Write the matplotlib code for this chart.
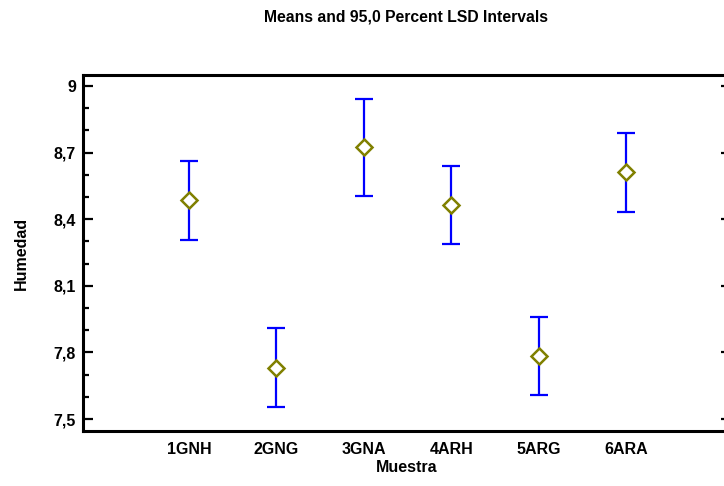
"""
Means and 95,0 Percent LSD Intervals — Humedad por muestra
"""
import matplotlib
matplotlib.use('Agg')
import matplotlib.pyplot as plt
import matplotlib.ticker as ticker

plt.rcParams['font.family'] = ['Liberation Sans Narrow', 'Liberation Sans', 'DejaVu Sans']

# Datos
muestras = ["1GNH", "2GNG", "3GNA", "4ARH", "5ARG", "6ARA"]
medias = [8.485, 7.731, 8.727, 8.463, 7.785, 8.611]
limite_inf = [8.308, 7.556, 8.506, 8.287, 7.608, 8.432]
limite_sup = [8.662, 7.910, 8.944, 8.641, 7.961, 8.787]
y_ticks = [7.5, 7.8, 8.1, 8.4, 8.7, 9.0]
y_labels = ["7,5", "7,8", "8,1", "8,4", "8,7", "9"]

fig = plt.figure(figsize=(7.24, 4.86), dpi=100)
ax = fig.add_axes([83 / 724, 1 - 431 / 486, (731 - 83) / 724, (431 - 75) / 486])

x = list(range(1, len(muestras) + 1))
err_lo = [m - l for m, l in zip(medias, limite_inf)]
err_hi = [u - m for m, u in zip(medias, limite_sup)]

ax.errorbar(x, medias, yerr=[err_lo, err_hi], fmt='none', ecolor='#0000ff',
            elinewidth=1.6, capsize=6.5, capthick=1.6, zorder=2)
ax.plot(x, medias, linestyle='none', marker='D', markersize=8,
        markerfacecolor='white', markeredgecolor='#808000',
        markeredgewidth=1.8, zorder=3)

ax.set_xlim(-0.21, 7.2)
ax.set_ylim(7.446, 9.05)

ax.set_xticks(x)
ax.set_xticklabels(muestras, fontsize=11.5, fontweight='bold')
ax.set_yticks(y_ticks)
ax.set_yticklabels(y_labels, fontsize=11.5, fontweight='bold')
ax.yaxis.set_minor_locator(ticker.MultipleLocator(0.1))

ax.tick_params(axis='x', which='both', length=0, pad=8)
ax.tick_params(axis='y', which='major', direction='in', length=7.5, width=1.6,
               left=True, right=True, pad=5)
ax.tick_params(axis='y', which='minor', direction='in', length=4, width=1.6,
               left=True, right=False)

for sp in ax.spines.values():
    sp.set_linewidth(2.2)

ax.set_xlabel("Muestra", fontsize=11.5, fontweight='bold', labelpad=2)
ax.set_ylabel("Humedad", fontsize=11.5, fontweight='bold', labelpad=18)
fig.text(406 / 724, 1 - 17 / 486, "Means and 95,0 Percent LSD Intervals",
         ha='center', va='center', fontsize=11.3, fontweight='bold')

fig.savefig("out.png", dpi=100)
plt.close(fig)
